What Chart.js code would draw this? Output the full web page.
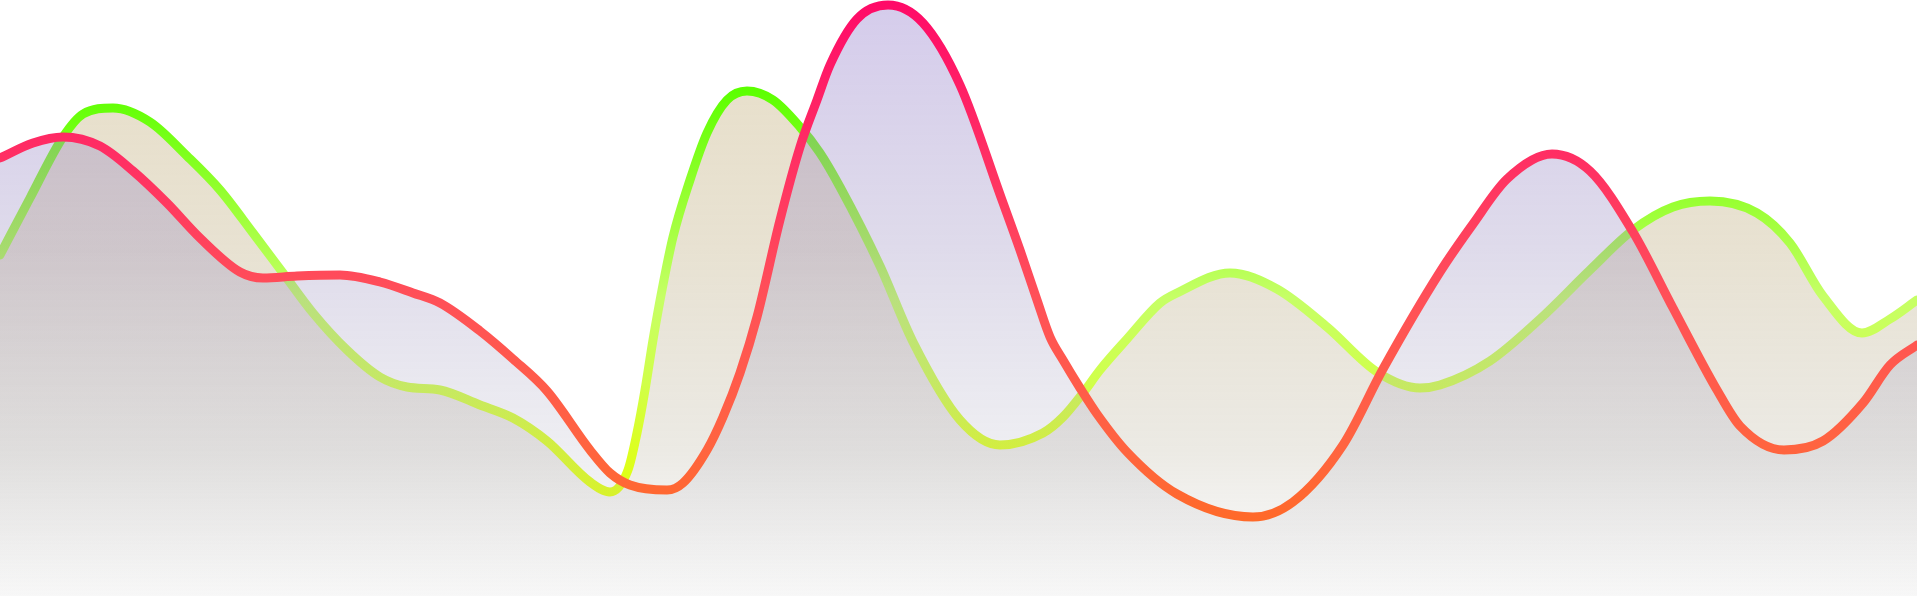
<!DOCTYPE html>
<html>
<head>
<meta charset="utf-8">
<script src="https://cdn.jsdelivr.net/npm/chart.js@4.4.1/dist/chart.umd.min.js"></script>
<style>
  html, body { margin: 0; padding: 0; background: #ffffff; overflow: hidden; }
  #wrap { position: relative; width: 1917px; height: 596px; }
</style>
</head>
<body>
<div id="wrap"><canvas id="c"></canvas></div>
<script>
// Values are heights above the bottom edge (0..596), x positions along a 0..1917 axis.
const redX = [0, 33, 63, 100, 133, 167, 200, 240, 263, 297, 340, 380, 413, 440, 480, 513, 547, 590, 610, 630, 667, 683, 707, 723, 740, 757, 780, 800, 817, 830, 857, 888, 923, 960, 1002, 1020, 1037, 1050, 1063, 1080, 1097, 1127, 1177, 1253, 1293, 1343, 1383, 1440, 1473, 1507, 1552, 1590, 1633, 1673, 1717, 1740, 1784, 1823, 1863, 1890, 1917];
const redY = [438, 453, 459, 450, 425, 393, 358, 324, 318, 320, 321, 314, 303, 293, 265, 237, 205, 146, 123, 111, 106, 113, 146, 179, 223, 279, 376, 449, 496, 531, 577, 591, 573, 511, 396, 346, 296, 259, 236, 208, 182, 144, 102, 79, 94, 151, 227, 324, 372, 417, 442, 425, 364, 288, 206, 170, 146, 155, 193, 231, 251];

const greenX = [0, 30, 63, 83, 113, 150, 187, 220, 253, 283, 313, 347, 380, 407, 440, 480, 513, 547, 590, 610, 628, 637, 645, 653, 662, 673, 690, 707, 727, 747, 773, 800, 820, 840, 880, 913, 960, 1000, 1043, 1063, 1083, 1100, 1127, 1160, 1177, 1230, 1277, 1327, 1377, 1420, 1440, 1490, 1540, 1590, 1633, 1673, 1710, 1757, 1790, 1823, 1862, 1890, 1917];
const greenY = [341, 398, 459, 482, 488, 474, 440, 406, 363, 323, 283, 246, 219, 209, 206, 191, 178, 155, 114, 104, 126, 163, 206, 256, 306, 359, 416, 463, 496, 505, 496, 469, 443, 409, 330, 254, 176, 151, 163, 179, 203, 226, 257, 293, 303, 323, 307, 269, 224, 208, 211, 235, 277, 326, 366, 389, 395, 383, 353, 300, 263, 277, 296];

const W = 1917, H = 596;

function pts(xs, ys) { return xs.map((x, i) => ({ x: x, y: ys[i] })); }

const canvas = document.getElementById('c');
const ctx = canvas.getContext('2d');

function grad(stops) {
  const g = ctx.createLinearGradient(0, 0, 0, H);
  stops.forEach(s => g.addColorStop(s[0], s[1]));
  return g;
}

const redStroke = grad([[0, '#ff0a68'], [0.25, '#ff2d64'], [0.5, '#ff5058'], [0.75, '#ff6440'], [0.88, '#ff6a28'], [1, '#ff6a28']]);
const greenStroke = grad([[0, '#5cff00'], [0.15, '#5cff00'], [0.34, '#99ff33'], [0.5, '#c6ff66'], [0.64, '#d0ff4a'], [0.75, '#dcff22'], [0.84, '#e0ff10'], [1, '#e0ff10']]);

const redFill = grad([[0, 'rgba(150,127,207,0.40)'], [0.42, 'rgba(148,135,188,0.30)'], [0.755, 'rgba(170,170,190,0.20)'], [1, 'rgba(175,175,175,0.05)']]);
const greenFill = grad([[0, 'rgba(200,177,120,0.40)'], [0.42, 'rgba(178,158,105,0.30)'], [0.755, 'rgba(160,150,120,0.20)'], [1, 'rgba(175,175,175,0.05)']]);

const common = {
  borderWidth: 9,
  fill: 'origin',
  pointRadius: 0,
  cubicInterpolationMode: 'monotone',
  borderCapStyle: 'round',
  borderJoinStyle: 'round'
};

new Chart(canvas, {
  type: 'line',
  data: {
    datasets: [
      Object.assign({ data: pts(redX, redY), borderColor: redStroke, backgroundColor: redFill }, common),
      Object.assign({ data: pts(greenX, greenY), borderColor: greenStroke, backgroundColor: greenFill }, common)
    ]
  },
  options: {
    responsive: true,
    maintainAspectRatio: false,
    animation: false,
    events: [],
    layout: { padding: 0 },
    plugins: { legend: { display: false }, tooltip: { enabled: false } },
    scales: {
      x: { type: 'linear', min: 0, max: W, display: false },
      y: { type: 'linear', min: 0, max: H, display: false }
    }
  }
});
</script>
</body>
</html>
